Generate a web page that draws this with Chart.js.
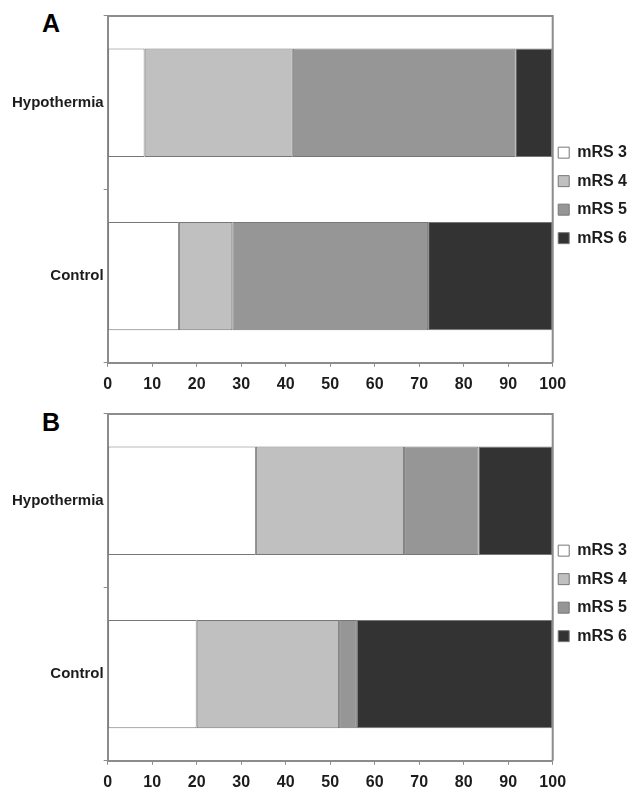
<!DOCTYPE html>
<html>
<head>
<meta charset="utf-8">
<script src="https://cdn.jsdelivr.net/npm/chart.js@4.4.1/dist/chart.umd.min.js"></script>
<style>
  html, body { margin: 0; padding: 0; background: #fff; overflow: hidden; }
  .panel { position: absolute; left: 0; width: 633px; height: 398px; }
  .letter { position: absolute; left: 42px; font: bold 25px "Liberation Sans", Arial, sans-serif; line-height: 1; color: #000; }
</style>
</head>
<body>
<div class="letter" style="top:11px">A</div>
<div class="letter" style="top:410px">B</div>
<div class="panel" style="top:0"><canvas id="chartA"></canvas></div>
<div class="panel" style="top:398px"><canvas id="chartB"></canvas></div>
<script>
'use strict';
// categories and series names
const groups = ['Hypothermia', 'Control'];
const seriesNames = ['mRS 3', 'mRS 4', 'mRS 5', 'mRS 6'];
const seriesColors = ['#ffffff', '#c0c0c0', '#969696', '#333333'];
const xTicks = [0, 10, 20, 30, 40, 50, 60, 70, 80, 90, 100];

// panel A (% of patients)
const mrs3A = [8.3, 16];
const mrs4A = [33.3, 12];
const mrs5A = [50, 44];
const mrs6A = [8.3, 28];

// panel B (% of patients)
const mrs3B = [33.3, 20];
const mrs4B = [33.3, 32];
const mrs5B = [16.7, 4];
const mrs6B = [16.7, 44];

const lineGray = '#8c8c8c';
const textColor = '#1c1c1c';
const fontFamily = '"Liberation Sans", Arial, sans-serif';

// top + right edge of the plot box, and pull the legend a bit closer to it
const frame = {
  id: 'frame',
  afterLayout(chart) {
    chart.legend.left -= 7;
    chart.legend.right -= 7;
  },
  afterDatasetsDraw(chart) {
    const a = chart.chartArea;
    const c = chart.ctx;
    c.save();
    c.strokeStyle = lineGray;
    c.lineWidth = 2;
    c.beginPath();
    c.moveTo(a.left, a.top);
    c.lineTo(a.right, a.top);
    c.lineTo(a.right, a.bottom);
    c.stroke();
    c.restore();
  }
};

function makeChart(canvasId, seriesData) {
  let datasets = [];
  for (let i = 0; i < seriesNames.length; i++) {
    datasets.push({
      label: seriesNames[i],
      data: seriesData[i],
      backgroundColor: seriesColors[i],
      borderColor: '#777777',
      borderWidth: 1,
      borderSkipped: false,
      categoryPercentage: 1,
      barPercentage: 0.625
    });
  }

  return new Chart(document.getElementById(canvasId), {
    type: 'bar',
    data: { labels: groups, datasets: datasets },
    plugins: [frame],
    options: {
      indexAxis: 'y',
      responsive: true,
      maintainAspectRatio: false,
      animation: false,
      layout: { padding: { left: 12, right: -11, top: 16, bottom: -4 } },
      scales: {
        x: {
          stacked: true,
          min: 0,
          max: 100,
          afterBuildTicks(axis) { axis.ticks = xTicks.map(v => ({ value: v })); },
          grid: { drawOnChartArea: false, tickLength: 4, color: lineGray },
          border: { color: lineGray, width: 2 },
          ticks: { padding: 8, color: textColor, font: { family: fontFamily, size: 16, weight: 'bold' } }
        },
        y: {
          stacked: true,
          grid: { offset: true, drawOnChartArea: false, tickLength: 4, color: lineGray },
          border: { color: lineGray, width: 2 },
          ticks: { padding: 0, color: textColor, font: { family: fontFamily, size: 15, weight: 'bold' } }
        }
      },
      plugins: {
        tooltip: { enabled: false },
        legend: {
          position: 'right',
          fullSize: false,
          // empty title only nudges the items down a little
          title: { display: true, text: '', padding: 3, font: { size: 5 } },
          labels: {
            boxWidth: 11,
            boxHeight: 11,
            padding: 12.5,
            color: textColor,
            font: { family: fontFamily, size: 16, weight: 'bold' }
          }
        }
      }
    }
  });
}

makeChart('chartA', [mrs3A, mrs4A, mrs5A, mrs6A]);
makeChart('chartB', [mrs3B, mrs4B, mrs5B, mrs6B]);
</script>
</body>
</html>
